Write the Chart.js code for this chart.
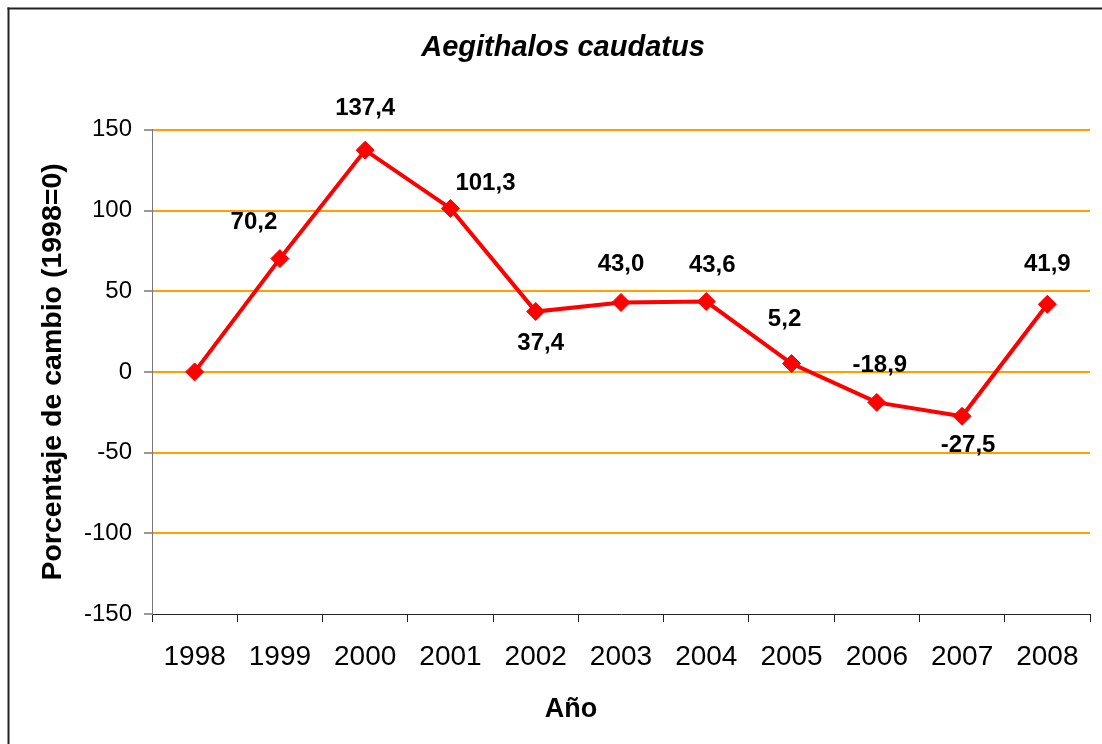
<!DOCTYPE html>
<html>
<head>
<meta charset="utf-8">
<script src="https://cdn.jsdelivr.net/npm/chart.js@4.4.1/dist/chart.umd.min.js"></script>
<style>
  html, body { margin: 0; padding: 0; background: #ffffff; }
  #wrap { width: 1102px; height: 744px; }
</style>
</head>
<body>
<div id="wrap"><canvas id="c" width="1102" height="744"></canvas></div>
<script>
// ---- Data ----
const years = ['1998', '1999', '2000', '2001', '2002', '2003', '2004', '2005', '2006', '2007', '2008'];
const changePct = [0, 70.2, 137.4, 101.3, 37.4, 43.0, 43.6, 5.2, -18.9, -27.5, 41.9];
const yTickValues = [-150, -100, -50, 0, 50, 100, 150];
const chartTitle = 'Aegithalos caudatus';
const xTitle = 'Año';
const yTitle = 'Porcentaje de cambio (1998=0)';
// data label text (base year carries no label)
const valueLabels = changePct.map((v, i) => i === 0 ? '' : v.toFixed(1).replace('.', ','));

const FONT = "'Liberation Sans', Arial, Helvetica, sans-serif";

const frame = {
  id: 'frame',
  beforeDraw(chart) {
    const ctx = chart.ctx;
    ctx.save();
    ctx.fillStyle = '#ffffff';
    ctx.fillRect(0, 0, chart.width, chart.height);
    ctx.fillStyle = '#222222';
    ctx.fillRect(7.5, 7.5, chart.width, 2);
    ctx.fillRect(7.5, 7.5, 2, chart.height);
    ctx.restore();
  }
};

const pointLabels = {
  id: 'pointLabels',
  afterDatasetsDraw(chart, args, opts) {
    const ctx = chart.ctx;
    const meta = chart.getDatasetMeta(0);
    ctx.save();
    ctx.font = opts.font;
    ctx.fillStyle = opts.color;
    ctx.textAlign = 'center';
    ctx.textBaseline = 'middle';
    meta.data.forEach((pt, i) => {
      const txt = valueLabels[i];
      if (!txt) return;
      const off = opts.offsets[i] || [0, -38];
      ctx.fillText(txt, pt.x + off[0], pt.y + off[1]);
    });
    ctx.restore();
  }
};

// x-axis title, placed below the tick labels (slightly left of centre as in the original)
const xAxisTitle = {
  id: 'xAxisTitle',
  afterDraw(chart, args, opts) {
    const ctx = chart.ctx;
    const ca = chart.chartArea;
    ctx.save();
    ctx.font = opts.font;
    ctx.fillStyle = '#000000';
    ctx.textAlign = 'center';
    ctx.textBaseline = 'middle';
    ctx.fillText(xTitle, (ca.left + ca.right) / 2 + opts.dx, ca.bottom + opts.dy);
    ctx.restore();
  }
};

new Chart(document.getElementById('c'), {
  type: 'line',
  data: {
    labels: years,
    datasets: [{
      data: changePct,
      borderColor: '#FF0000',
      backgroundColor: '#FF0000',
      borderWidth: 4,
      tension: 0,
      pointStyle: 'rectRot',
      pointRadius: 9,
      pointBackgroundColor: '#FF0000',
      pointBorderColor: '#FF0000',
      pointBorderWidth: 1,
      clip: false
    }]
  },
  options: {
    responsive: false,
    animation: false,
    events: [],
    layout: { padding: { left: 36, right: 12, top: 0, bottom: 10 } },
    plugins: {
      legend: { display: false },
      tooltip: { enabled: false },
      title: {
        display: true,
        text: chartTitle,
        color: '#000000',
        font: { family: FONT, size: 29, weight: 'bold', style: 'italic' },
        padding: { top: 31, bottom: 64 }
      },
      pointLabels: {
        font: "bold 24px " + FONT,
        color: '#000000',
        offsets: [[0, 0], [-26, -36], [0, -42], [35, -25], [5, 32], [0, -38], [6, -36], [-7, -44], [3, -37], [6, 29], [0, -40]]
      },
      xAxisTitle: {
        font: "bold 27px " + FONT,
        dx: -50,
        dy: 96
      }
    },
    scales: {
      x: {
        offset: true,
        afterFit(scale) { scale.height = 120; },
        grid: {
          offset: true,
          drawOnChartArea: false,
          drawTicks: true,
          tickLength: 8,
          tickColor: '#222222',
          tickWidth: 1
        },
        border: { display: true, color: '#222222', width: 1 },
        ticks: {
          color: '#000000',
          font: { family: FONT, size: 28 },
          padding: 18,
          maxRotation: 0,
          autoSkip: false
        },
        title: { display: false }
      },
      y: {
        min: -150,
        max: 150,
        afterFit(scale) { scale.width = 152 - 36; },
        afterBuildTicks(scale) { scale.ticks = yTickValues.map(v => ({ value: v })); },
        grid: {
          color: (c) => (c.tick && c.tick.value === -150) ? 'rgba(0,0,0,0)' : '#FFA000',
          lineWidth: 2,
          drawTicks: true,
          tickLength: 8,
          tickColor: '#333333',
          tickWidth: 1
        },
        border: { display: true, color: '#777777', width: 1 },
        ticks: {
          color: '#000000',
          font: { family: FONT, size: 24 },
          padding: 12,
          callback: (v) => String(v)
        },
        title: {
          display: true,
          text: yTitle,
          color: '#000000',
          font: { family: FONT, size: 28.5, weight: 'bold' },
          padding: { top: 0, bottom: 4 }
        }
      }
    }
  },
  plugins: [frame, pointLabels, xAxisTitle]
});
</script>
</body>
</html>
